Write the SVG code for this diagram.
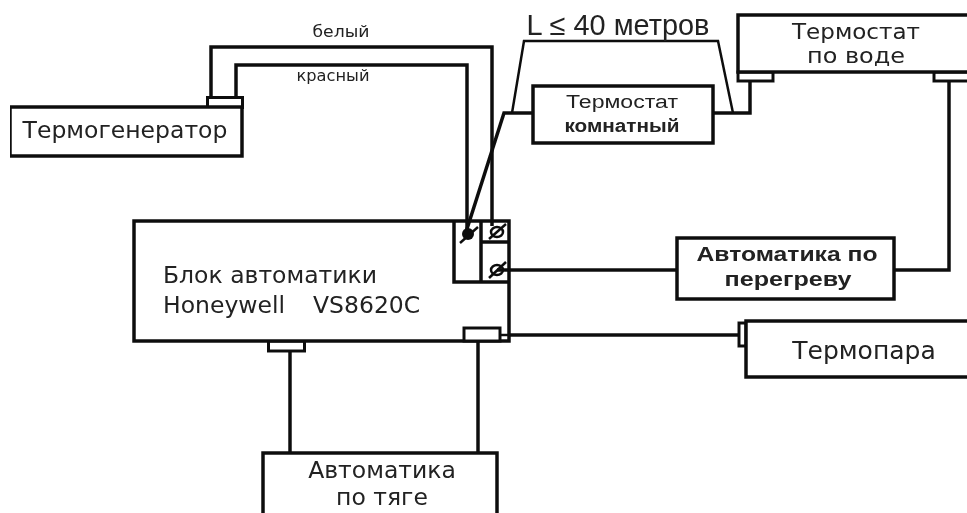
<svg xmlns="http://www.w3.org/2000/svg" width="967" height="513" viewBox="0 0 967 513">
<style>
.b{fill:#fff;stroke:#111;stroke-width:3.5}
.t{fill:#fff;stroke:#111;stroke-width:3}
.w{fill:none;stroke:#111;stroke-width:3.5;stroke-linejoin:miter}
.n{fill:none;stroke:#111;stroke-width:2.500}
text{font-family:"DejaVu Sans","Liberation Sans",sans-serif;fill:#222;text-anchor:middle}
.a{font-family:"Liberation Sans",sans-serif}
.s{font-size:15.500px}
.m{font-size:23.500px}
</style>
<defs><filter id="f" x="0" y="0" width="100%" height="100%"><feGaussianBlur stdDeviation="0.6"/></filter></defs>
<rect width="967" height="513" fill="#fff"/>
<g filter="url(#f)">
<g id="thermogenerator">
<rect class="t" x="207.500" y="97.500" width="35" height="10"/>
<rect class="b" x="10" y="107" width="232" height="49"/>
<text class="m" x="125" y="138">Термогенератор</text>
</g>
<g id="room-thermostat">
<rect class="b" x="533" y="86" width="180" height="57"/>
<text x="622" y="108" class="a" style="font-size:18px" textLength="112" lengthAdjust="spacingAndGlyphs">Термостат</text>
<text x="622" y="132" class="a" style="font-size:18px;font-weight:bold" textLength="115" lengthAdjust="spacingAndGlyphs">комнатный</text>
</g>
<g id="water-thermostat">
<rect class="t" x="738" y="72" width="35" height="9"/>
<rect class="t" x="934" y="72" width="40" height="9"/>
<rect class="b" x="738" y="15" width="240" height="57"/>
<text x="856" y="39" style="font-size:20.500px" textLength="128" lengthAdjust="spacingAndGlyphs">Термостат</text>
<text x="856" y="63" style="font-size:20.500px" textLength="98" lengthAdjust="spacingAndGlyphs">по воде</text>
</g>
<g id="control-block">
<rect class="t" x="268.500" y="341" width="36" height="10"/>
<rect class="b" x="134" y="221" width="375" height="120"/>
<rect class="t" x="464" y="328" width="36" height="13"/>
<path class="w" d="M454 221V282H509M481 221V282M481 242H509"/>
<path class="n" d="M500 335H509"/>
<g id="screws">
<circle cx="468" cy="234" r="6" fill="#111"/>
<path class="n" d="M460 243L478 227"/>
<ellipse class="n" cx="497" cy="232" rx="6" ry="5"/>
<path class="n" d="M489 239L506 224"/>
<ellipse class="n" cx="497" cy="270" rx="6" ry="5"/>
<path class="n" d="M489 278L506 262"/>
</g>
<text class="m" x="270" y="283">Блок автоматики</text>
<text style="font-size:23.500px;text-anchor:start" y="313"><tspan x="163">Honeywell</tspan> <tspan x="313">VS8620C</tspan></text>
</g>
<g id="overheat">
<rect class="b" x="677" y="238" width="217" height="61"/>
<text x="787" y="261" class="a" style="font-size:19.500px;font-weight:bold" textLength="181" lengthAdjust="spacingAndGlyphs">Автоматика по</text>
<text x="788" y="286" class="a" style="font-size:19.500px;font-weight:bold" textLength="127" lengthAdjust="spacingAndGlyphs">перегреву</text>
</g>
<g id="thermocouple">
<rect class="t" x="739" y="323" width="7" height="23"/>
<rect class="b" x="746" y="321" width="230" height="56"/>
<text x="864" y="359" style="font-size:25px">Термопара</text>
</g>
<g id="draft">
<rect class="b" x="263" y="453" width="234" height="70"/>
<text class="m" x="382" y="478">Автоматика</text>
<text class="m" x="382" y="505">по тяге</text>
</g>
<g id="connectors">
<path class="w" d="M211 97V47H492V226"/>
<path class="w" d="M236 97V65H467V232"/>
<path class="w" d="M533 113H504L466 232"/>
<path class="n" d="M512 113L524 41H718L733 113"/>
<path class="w" d="M713 113H750V81"/>
<path class="w" d="M949 81V270H894"/>
<path class="w" d="M497 270H677"/>
<path class="w" d="M509 335H738"/>
<path class="w" d="M290 351V453"/>
<path class="w" d="M478 341V453"/>
</g>
<g id="label-white"><text class="s" x="341" y="37" textLength="57" lengthAdjust="spacingAndGlyphs">белый</text></g>
<g id="label-red"><text class="s" x="333" y="81" textLength="73" lengthAdjust="spacingAndGlyphs">красный</text></g>
<g id="label-length"><text x="618" y="35" class="a" style="font-size:29px" textLength="183" lengthAdjust="spacingAndGlyphs">L ≤ 40 метров</text></g>
</g>
</svg>
